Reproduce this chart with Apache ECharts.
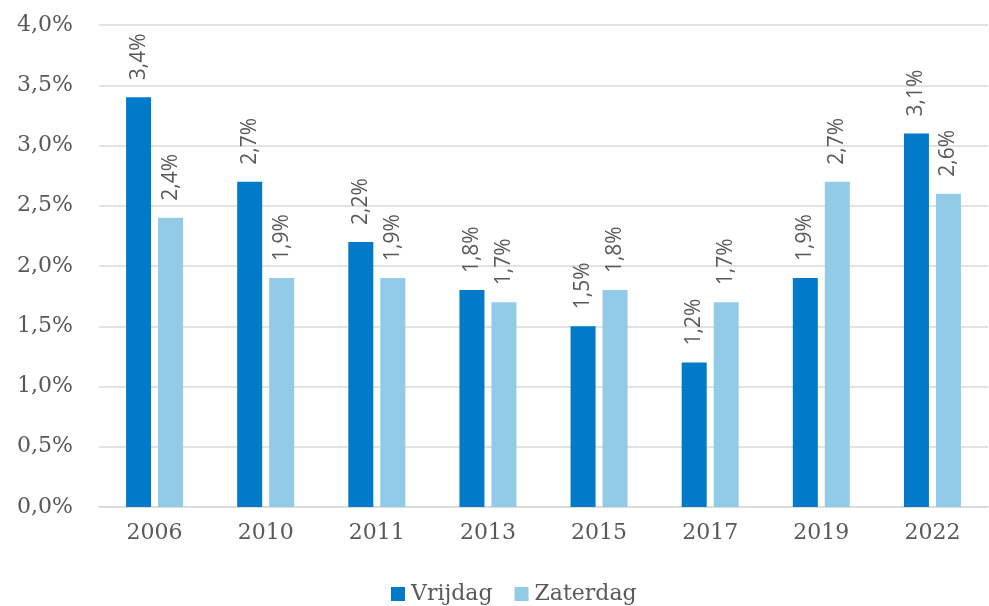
<!DOCTYPE html>
<html>
<head>
<meta charset="utf-8">
<script src="https://cdn.jsdelivr.net/npm/echarts@6/dist/echarts.min.js"></script>
<style>
    html, body { margin: 0; padding: 0; background: #fff; }
    #chart { width: 989px; height: 606px; }
</style>
</head>
<body>
<div id="chart"></div>
<script>
    // jaren en percentages
    var jaren = ['2006', '2010', '2011', '2013', '2015', '2017', '2019', '2022'];
    var vrijdag = [3.4, 2.7, 2.2, 1.8, 1.5, 1.2, 1.9, 3.1];
    var zaterdag = [2.4, 1.9, 1.9, 1.7, 1.8, 1.7, 2.7, 2.6];

    function pct(v, d) {
        return v.toFixed(d).replace('.', ',') + '%';
    }

    var labelStyle = {
        show: true,
        position: 'top',
        rotate: 90,
        align: 'left',
        verticalAlign: 'middle',
        distance: 17,
        color: '#595959',
        fontFamily: 'Open Sans',
        fontSize: 21,
        formatter: function (p) { return pct(p.value, 1); }
    };

    var chart = echarts.init(document.getElementById('chart'));
    var option = {
        animation: false,
        grid: {
            left: 99,
            right: 1,
            top: 25,
            bottom: 99
        },
        legend: {
            bottom: -4,
            left: 386,
            itemWidth: 14,
            itemHeight: 14,
            itemGap: 22,
            icon: 'rect',
            textStyle: {
                color: '#595959',
                fontFamily: 'DejaVu Serif',
                fontSize: 22,
                padding: [0, 0, 0, 1]
            },
            data: ['Vrijdag', 'Zaterdag']
        },
        xAxis: {
            type: 'category',
            data: jaren,
            axisTick: { show: false },
            axisLine: { lineStyle: { color: '#d9d9d9', width: 1.5 } },
            axisLabel: {
                color: '#595959',
                fontFamily: 'DejaVu Serif',
                fontSize: 22,
                margin: 15
            }
        },
        yAxis: {
            type: 'value',
            min: 0,
            max: 4,
            interval: 0.5,
            axisLine: { show: false },
            axisTick: { show: false },
            splitLine: { lineStyle: { color: '#d9d9d9', width: 1.5 } },
            axisLabel: {
                color: '#595959',
                fontFamily: 'DejaVu Serif',
                fontSize: 22,
                margin: 26,
                formatter: function (v) { return pct(v, 1); }
            }
        },
        series: [
            {
                name: 'Vrijdag',
                type: 'bar',
                data: vrijdag,
                barWidth: 25,
                barGap: '28%',
                itemStyle: { color: '#007ac9' },
                label: labelStyle
            },
            {
                name: 'Zaterdag',
                type: 'bar',
                data: zaterdag,
                barWidth: 25,
                itemStyle: { color: '#92cbe8' },
                label: labelStyle
            }
        ]
    };
    chart.setOption(option);
</script>
</body>
</html>
